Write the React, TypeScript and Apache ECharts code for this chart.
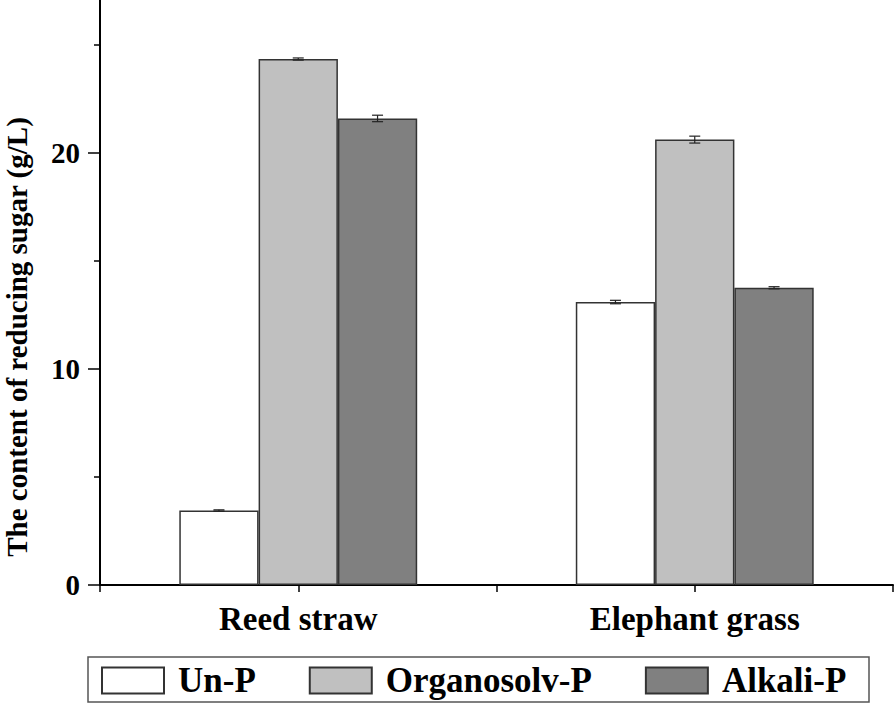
import React, { useEffect, useRef } from "react";
import * as echarts from "echarts";

const categories = ["Reed straw", "Elephant grass"];
const seriesNames = ["Un-P", "Organosolv-P", "Alkali-P"];
const unP = [3.45, 13.1];
const organosolvP = [24.35, 20.62];
const alkaliP = [21.6, 13.76];
const unPErr = [0.03, 0.08];
const organosolvPErr = [0.05, 0.16];
const alkaliPErr = [0.15, 0.05];
const yTicks = [0, 10, 20];

const FONT = "'Liberation Serif', 'Times New Roman', serif";
const D = 63; // chart canvas extends above the page top

export default function App() {
  const ref = useRef<HTMLDivElement>(null);
  useEffect(() => {
    if (!ref.current) return;
    const chart = echarts.init(ref.current, undefined, { renderer: "svg" });
    const values = [unP, organosolvP, alkaliP];
    const errs = [unPErr, organosolvPErr, alkaliPErr];
    const colors = ["#ffffff", "#c0c0c0", "#808080"];
    const errData: number[][] = [];
    for (let s = 0; s < 3; s++) {
      for (let c = 0; c < categories.length; c++) {
        errData.push([c, values[s][c], errs[s][c], s]);
      }
    }
    const barSeries = seriesNames.map((name, i) => ({
      name,
      type: "bar",
      xAxisIndex: 0,
      yAxisIndex: 0,
      data: values[i],
      barWidth: "20%",
      barGap: "0%",
      itemStyle: { color: colors[i], borderColor: "#333333", borderWidth: 1.5 },
      z: 2,
    }));
    chart.setOption({
      animation: false,
      backgroundColor: "#ffffff",
      grid: { left: 100, right: 2, top: 0, bottom: 119, containLabel: false },
      xAxis: [
        {
          type: "category",
          data: categories,
          boundaryGap: true,
          axisLine: { show: true, lineStyle: { color: "#000", width: 2 } },
          axisTick: { show: true, length: 7, inside: false, lineStyle: { color: "#000", width: 1.5 } },
          axisLabel: {
            margin: 17,
            fontFamily: FONT,
            fontWeight: "bold",
            fontSize: 33,
            color: "#000",
          },
          splitLine: { show: false },
        },
        {
          type: "category",
          data: categories,
          position: "bottom",
          boundaryGap: true,
          axisLine: { show: false },
          axisTick: { show: true, alignWithLabel: true, length: 7, lineStyle: { color: "#000", width: 1.5 } },
          axisLabel: { show: false },
          splitLine: { show: false },
        },
      ],
      yAxis: {
        type: "value",
        min: 0,
        max: 30,
        interval: 10,
        axisLine: { show: true, lineStyle: { color: "#000", width: 2 } },
        axisTick: { show: true, length: 12, lineStyle: { color: "#000", width: 1.5 } },
        minorTick: { show: true, splitNumber: 2, length: 6, lineStyle: { color: "#000", width: 1.5 } },
        splitLine: { show: false },
        axisLabel: {
          margin: 20,
          fontFamily: FONT,
          fontWeight: "bold",
          fontSize: 29,
          color: "#000",
          formatter: (v: number) => (yTicks.indexOf(v) >= 0 ? String(v) : ""),
        },
      },
      legend: {
        data: seriesNames,
        left: 101,
        top: 663 + D,
        orient: "horizontal",
        itemWidth: 62,
        itemHeight: 26,
        itemGap: 53,
        padding: 0,
        icon: "rect",
        textStyle: {
          fontFamily: FONT,
          fontWeight: "bold",
          fontSize: 35,
          color: "#000",
          padding: [0, 0, 0, 9],
        },
      },
      graphic: [
        {
          type: "rect",
          shape: { x: 88, y: 657 + D, width: 781, height: 45 },
          style: { fill: "none", stroke: "#555", lineWidth: 1.5 },
          z: -1,
        },
        {
          type: "text",
          x: 17,
          y: 337 + D,
          rotation: Math.PI / 2,
          style: {
            text: "The content of reducing sugar (g/L)",
            fontFamily: FONT,
            fontWeight: "bold",
            fontSize: 29,
            fill: "#000",
            align: "center",
            verticalAlign: "middle",
          },
        },
      ],
      series: [
        ...barSeries,
        {
          type: "custom",
          xAxisIndex: 0,
          yAxisIndex: 0,
          data: errData,
          encode: { x: 0, y: 1 },
          z: 5,
          renderItem: (params: any, api: any) => {
            const c = api.value(0);
            const v = api.value(1);
            const e = api.value(2);
            const s = api.value(3);
            const catW = api.size([1, 0])[0];
            const bw = catW * 0.2;
            const center = api.coord([c, v]);
            const x = center[0] + (s - 1) * bw;
            const top = api.coord([c, v + e])[1];
            const bot = api.coord([c, v - e])[1];
            const cap = 5.5;
            const style = { stroke: "#222", lineWidth: 1.2 };
            return {
              type: "group",
              children: [
                { type: "line", shape: { x1: x, y1: top, x2: x, y2: bot }, style },
                { type: "line", shape: { x1: x - cap, y1: top, x2: x + cap, y2: top }, style },
                { type: "line", shape: { x1: x - cap, y1: bot, x2: x + cap, y2: bot }, style },
              ],
            };
          },
        },
      ],
    });
    return () => chart.dispose();
  }, []);
  return (
    <div
      ref={ref}
      style={{ position: "absolute", left: 0, top: -D, width: 895, height: 704 + D }}
    />
  );
}
